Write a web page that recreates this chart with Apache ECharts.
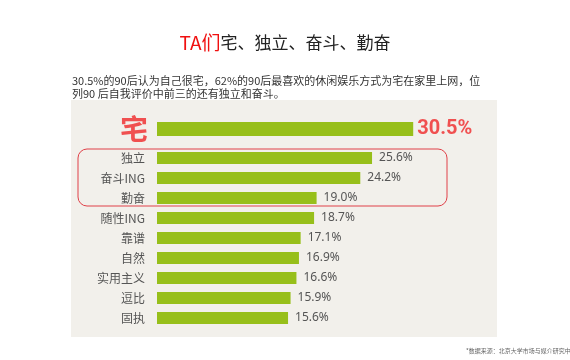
<!DOCTYPE html>
<html><head><meta charset="utf-8">
<script src="https://cdn.jsdelivr.net/npm/echarts@6/dist/echarts.min.js"></script>
<style>html,body{margin:0;padding:0;background:#fff}#c{width:570px;height:360px}</style>
</head><body><div id="c"></div>
<script>
const topCategory = ['宅'];
const topValue = [30.5];
const categories = ['独立','奋斗ING','勤奋','随性ING','靠谱','自然','实用主义','逗比','固执'];
const values = [25.6,24.2,19.0,18.7,17.1,16.9,16.6,15.9,15.6];
const titleRed = 'TA们';
const titleBlack = '宅、独立、奋斗、勤奋';
const noteLine1 = '30.5%的90后认为自己很宅，62%的90后最喜欢的休闲娱乐方式为宅在家里上网，位';
const noteLine2 = '列90 后自我评价中前三的还有独立和奋斗。';
const source = '*数据来源：北京大学市场与媒介研究中心';

const FONT = '"Noto Sans CJK SC", "Noto Sans", sans-serif';
const chart = echarts.init(document.getElementById('c'));
const xMax = 40, gLeft = 157, gWidth = 336;
const green = '#97bf1a';
chart.setOption({
  backgroundColor: '#ffffff',
  animation: false,
  textStyle: {fontFamily: FONT},
  graphic: [
    {type:'rect', z:-10, shape:{x:71,y:100,width:426,height:237}, style:{fill:'#f2f0eb'}},
    {type:'text', left:'center', top:33, style:{
      text:'{r|'+titleRed+'}{b|'+titleBlack+'}',
      rich:{r:{fill:'#f01010', fontSize:19, fontFamily:FONT}, b:{fill:'#222', fontSize:17, fontFamily:FONT}}
    }},
    {type:'text', x:72, y:74, style:{text:noteLine1+'\n'+noteLine2, fill:'#333', fontSize:11, lineHeight:13, fontFamily:FONT}},
    {type:'rect', z:20, shape:{x:78,y:149,width:369,height:57,r:9}, style:{fill:'none', stroke:'#e04048', lineWidth:1}},
    {type:'text', x:466, y:348, style:{text:source, fill:'#666', fontSize:6, fontFamily:FONT}}
  ],
  grid: [
    {left:gLeft, width:gWidth, top:119, height:20},
    {left:gLeft, width:gWidth, top:148, height:180}
  ],
  xAxis: [
    {gridIndex:0, type:'value', min:0, max:xMax, show:false},
    {gridIndex:1, type:'value', min:0, max:xMax, show:false}
  ],
  yAxis: [
    {gridIndex:0, type:'category', data:topCategory, inverse:true, axisLine:{show:false}, axisTick:{show:false},
     axisLabel:{margin:9, color:'#f05050', fontSize:28, fontWeight:'bold', fontFamily:FONT}},
    {gridIndex:1, type:'category', data:categories, inverse:true, axisLine:{show:false}, axisTick:{show:false},
     axisLabel:{margin:12, color:'#555', fontSize:12, fontFamily:FONT}}
  ],
  series: [
    {type:'bar', xAxisIndex:0, yAxisIndex:0, data:topValue, barWidth:14, itemStyle:{color:green},
     label:{show:true, position:'right', distance:4, formatter:p=>p.value.toFixed(1)+'%', color:'#f05050', fontSize:20, fontWeight:'bold', fontFamily:'Roboto, sans-serif'}},
    {type:'bar', xAxisIndex:1, yAxisIndex:1, data:values, barWidth:12, itemStyle:{color:green},
     label:{show:true, position:'right', distance:7, formatter:p=>p.value.toFixed(1)+'%', color:'#555', fontSize:12, fontFamily:'"Noto Sans", sans-serif'}}
  ]
});
</script></body></html>
